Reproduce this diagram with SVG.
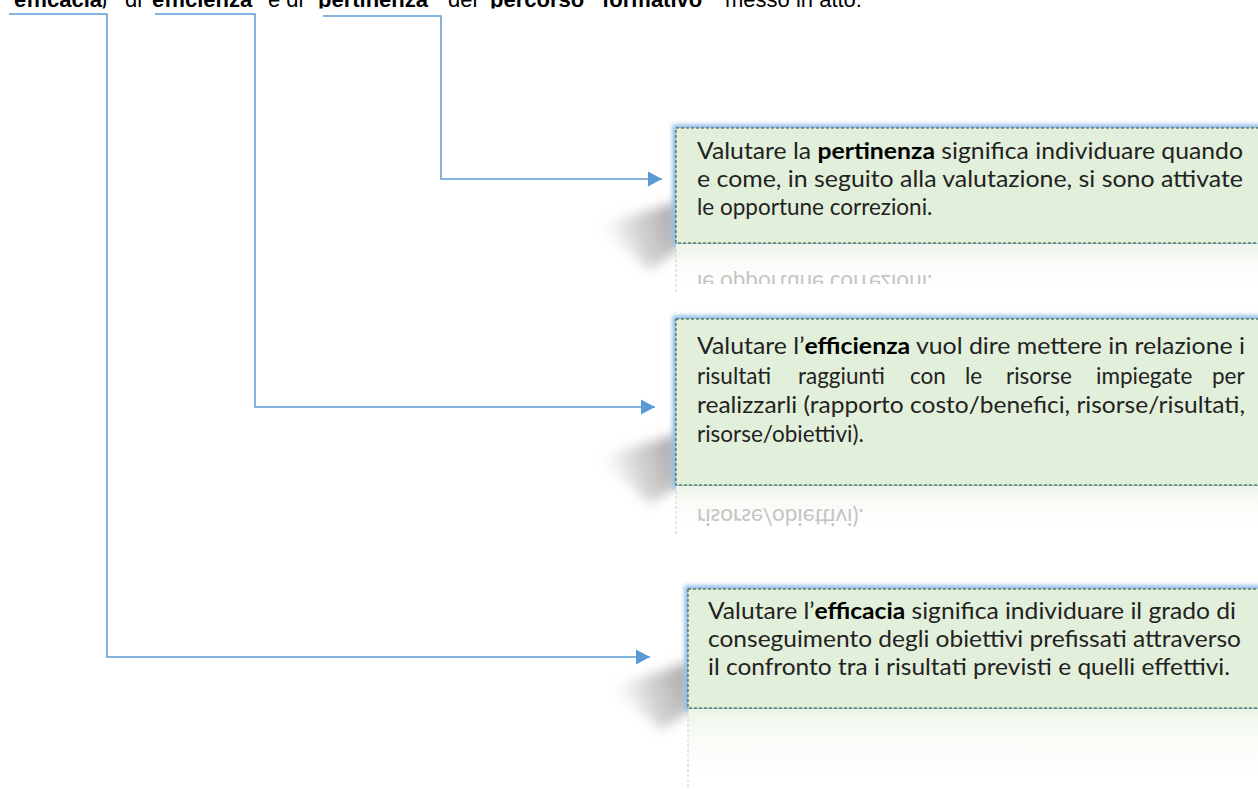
<svg xmlns="http://www.w3.org/2000/svg" width="1258" height="789" viewBox="0 0 1258 789">
<style>
.t{font-family:Lato,"Liberation Sans",sans-serif;font-size:22.5px;fill:#222}
.b{font-weight:700;fill:#000}
.top{font-family:"Liberation Sans",Arial,sans-serif;font-size:22px;fill:#000}
.conn{fill:none;stroke:#5B9BD5;stroke-width:1.5;marker-end:url(#ah)}
.box{fill:#E2EFDA;stroke:#2F4F1F;stroke-width:1;stroke-dasharray:3 2}
.glow{fill:none;stroke:#8DBBE8;stroke-width:7;filter:url(#gl)}
.sh{fill:url(#shg);filter:url(#shb)}
.rt{font-family:Lato,"Liberation Sans",sans-serif;font-size:22.5px;fill:#c4c4c4}
.rline{stroke:#cfcfcf;stroke-width:1;stroke-dasharray:3 2}
</style>
<defs>
<marker id="ah" markerUnits="userSpaceOnUse" markerWidth="15" markerHeight="16" refX="14" refY="8" orient="auto" viewBox="0 0 15 16"><path d="M0,0.5 L14,8 L0,15.5 z" fill="#5B9BD5"/></marker>
<filter id="gl" x="-5%" y="-20%" width="110%" height="140%"><feGaussianBlur stdDeviation="2.2"/></filter>
<filter id="shb" x="-50%" y="-50%" width="200%" height="200%"><feGaussianBlur stdDeviation="6"/></filter>
<linearGradient id="shg" x1="1" y1="0" x2="0" y2="0.3"><stop offset="0" stop-color="#808080" stop-opacity=".75"/><stop offset="0.6" stop-color="#999" stop-opacity=".4"/><stop offset="1" stop-color="#bbb" stop-opacity="0"/></linearGradient>
<linearGradient id="rg" x1="0" y1="0" x2="0" y2="1"><stop offset="0" stop-color="#EEF5E9"/><stop offset="1" stop-color="#fff" stop-opacity="0"/></linearGradient>
<clipPath id="topclip"><rect x="0" y="0" width="1258" height="8.5"/></clipPath>
<clipPath id="r1"><rect x="600" y="244" width="658" height="40"/></clipPath>
<clipPath id="r2"><rect x="600" y="486" width="658" height="50"/></clipPath>
</defs>

<g id="header" clip-path="url(#topclip)">
<text class="top" y="6.5"><tspan x="14" font-weight="700">efficacia</tspan><tspan x="100">)</tspan><tspan x="125">di</tspan><tspan x="152" font-weight="700">efficienza</tspan><tspan x="268">e di</tspan><tspan x="318" font-weight="700">pertinenza</tspan><tspan x="448">del</tspan><tspan x="490" font-weight="700">percorso</tspan><tspan x="602" font-weight="700">formativo</tspan><tspan x="725">messo in atto.</tspan></text>
</g>

<g id="shadows">
<polygon class="sh" points="678,202 678,250 650,270 598,226"/>
<polygon class="sh" points="678,434 678,486 650,504 598,458"/>
<polygon class="sh" points="690,662 690,710 662,730 610,688"/>
</g>

<g id="connectors">
<path class="conn" d="M9,14 H107 V657 H650"/>
<path class="conn" d="M155,14 H255 V407 H655"/>
<path class="conn" d="M323,16 H441 V179 H662"/>
</g>

<g id="node-pertinenza">
<rect class="glow" x="676" y="128" width="600" height="115"/>
<rect class="box" x="676" y="128" width="600" height="115"/>
<text class="t" x="697" y="159" textLength="546" lengthAdjust="spacingAndGlyphs">Valutare la <tspan class="b">pertinenza</tspan> significa individuare quando</text>
<text class="t" x="697" y="187" textLength="546" lengthAdjust="spacingAndGlyphs">e come, in seguito alla valutazione, si sono attivate</text>
<text class="t" x="697" y="215">le opportune correzioni.</text>
<g id="refl-pertinenza">
<rect x="676" y="244" width="582" height="50" fill="url(#rg)"/>
<line class="rline" x1="676" y1="244" x2="676" y2="292"/>
<g clip-path="url(#r1)"><text class="rt" x="697" y="215" transform="translate(0,490) scale(1,-1)">le opportune correzioni.</text></g>
</g>
</g>

<g id="node-efficienza">
<rect class="glow" x="676" y="319" width="600" height="166"/>
<rect class="box" x="676" y="319" width="600" height="166"/>
<text class="t" x="697" y="354" textLength="548" lengthAdjust="spacingAndGlyphs">Valutare l’<tspan class="b">efficienza</tspan> vuol dire mettere in relazione i</text>
<text class="t" y="384"><tspan x="697">risultati</tspan><tspan x="798">raggiunti</tspan><tspan x="910">con</tspan><tspan x="965">le</tspan><tspan x="1006">risorse</tspan><tspan x="1096">impiegate</tspan><tspan x="1212">per</tspan></text>
<text class="t" x="697" y="413" textLength="548" lengthAdjust="spacingAndGlyphs">realizzarli (rapporto costo/benefici, risorse/risultati,</text>
<text class="t" x="697" y="442">risorse/obiettivi).</text>
<g id="refl-efficienza">
<rect x="676" y="486" width="582" height="50" fill="url(#rg)"/>
<line class="rline" x1="676" y1="486" x2="676" y2="534"/>
<g clip-path="url(#r2)"><text class="rt" x="697" y="442" transform="translate(0,951) scale(1,-1)">risorse/obiettivi).</text></g>
</g>
</g>

<g id="node-efficacia">
<rect class="glow" x="688" y="589" width="600" height="119"/>
<rect class="box" x="688" y="589" width="600" height="119"/>
<text class="t" x="708" y="619" textLength="528" lengthAdjust="spacingAndGlyphs">Valutare l’<tspan class="b">efficacia</tspan> significa individuare il grado di</text>
<text class="t" x="708" y="647" textLength="533" lengthAdjust="spacingAndGlyphs">conseguimento degli obiettivi prefissati attraverso</text>
<text class="t" x="708" y="675" textLength="522" lengthAdjust="spacingAndGlyphs">il confronto tra i risultati previsti e quelli effettivi.</text>
<g id="refl-efficacia">
<rect x="688" y="709" width="570" height="80" fill="url(#rg)"/>
<line class="rline" x1="688" y1="709" x2="688" y2="789"/>
</g>
</g>
</svg>
